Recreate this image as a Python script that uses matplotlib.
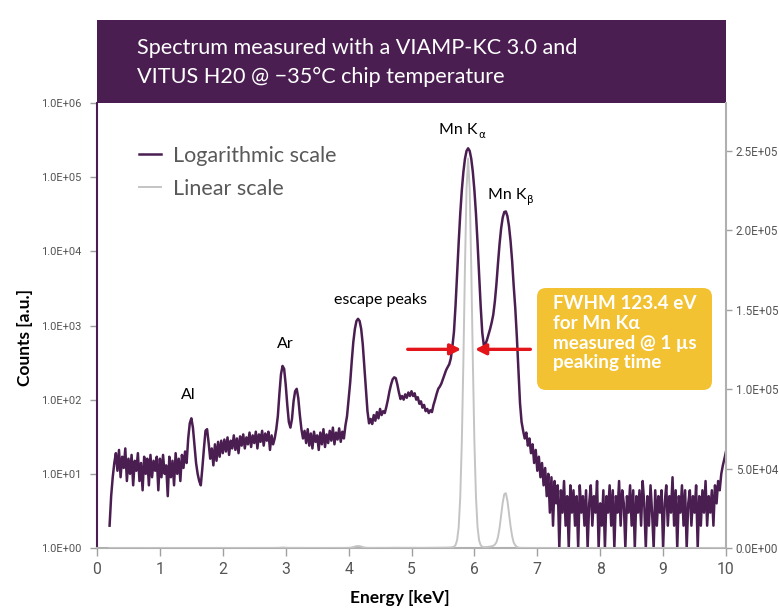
import numpy as np
import matplotlib
matplotlib.use("Agg")
import matplotlib.pyplot as plt
from matplotlib.font_manager import FontProperties, findfont
from matplotlib.textpath import TextPath
from matplotlib.patches import FancyBboxPatch, Rectangle
from matplotlib.transforms import IdentityTransform
from matplotlib.ticker import FixedLocator, NullLocator, FuncFormatter

# ---------------- data ----------------
CHANNEL_WIDTH_KEV = 0.025
segment_start_kev = [0.2, 2.0, 4.0, 6.0, 8.0]

counts_0p2_to_2keV = [
    2, 5, 9, 14, 19, 11, 21, 9, 17, 12,
    22, 8, 16, 10, 18, 7, 15, 11, 19, 8,
    14, 6, 17, 10, 16, 7, 18, 9, 15, 11,
    17, 6, 16, 9, 18, 10, 13, 5, 17, 9,
    15, 7, 19, 10, 16, 8, 18, 12, 20, 14,
    30, 48, 56, 42, 24, 14, 10, 8, 7, 12,
    22, 38, 40, 26, 16, 22, 13, 25, 15, 27,
    17, 28,
]
counts_2_to_4keV = [
    19, 29, 20, 31, 18, 28, 22, 33, 21, 30,
    19, 32, 24, 34, 22, 31, 25, 36, 23, 33,
    26, 37, 22, 34, 27, 38, 24, 35, 28, 37,
    21, 33, 25, 30, 40, 60, 120, 220, 285, 260,
    160, 85, 50, 42, 55, 95, 130, 140, 105, 62,
    40, 30, 38, 26, 40, 24, 35, 22, 37, 27,
    33, 21, 36, 25, 40, 23, 34, 26, 38, 28,
    42, 25, 36, 29, 41, 27, 37, 30, 45, 60,
]
counts_4_to_6keV = [
    100, 170, 330, 600, 900, 1150, 1230, 1150, 900, 560,
    276, 140, 70, 48, 55, 47, 62, 52, 68, 56,
    75, 62, 70, 66, 80, 100, 130, 160, 188, 200,
    195, 160, 125, 102, 112, 100, 118, 106, 125, 112,
    130, 112, 122, 100, 108, 88, 95, 78, 85, 70,
    75, 66, 72, 68, 85, 100, 120, 140, 150, 165,
    190, 220, 250, 275, 300, 360, 520, 820, 1850, 5000,
    13100, 32100, 66700, 117900, 177000, 225900, 245000, 225900, 177000, 117900,
]
counts_6_to_8keV = [
    66700, 32100, 13100, 4700, 1800, 800, 540, 560, 640, 760,
    900, 1100, 1400, 2100, 3600, 6900, 12600, 20400, 28500, 33900,
    34500, 29800, 21900, 13700, 7400, 3400, 1700, 700, 250, 90,
    50, 38, 30, 36, 24, 30, 19, 25, 14, 21,
    11, 17, 9, 14, 7, 12, 5, 10, 3, 9,
    2, 8, 4, 7, 1, 6, 3, 8, 2, 5,
    1, 7, 3, 6, 2, 5, 1, 7, 3, 5,
    2, 6, 1, 4, 7, 2, 5, 3, 8, 1,
]
counts_8_to_10keV = [
    4, 2, 6, 1, 5, 3, 7, 2, 6, 1,
    5, 3, 8, 2, 6, 4, 1, 5, 3, 7,
    2, 6, 1, 5, 3, 6, 2, 8, 4, 1,
    5, 2, 7, 3, 1, 6, 2, 5, 3, 6,
    1, 4, 7, 2, 5, 3, 9, 2, 6, 1,
    5, 3, 7, 2, 6, 1, 4, 6, 2, 5,
    3, 7, 1, 5, 2, 6, 3, 8, 2, 5,
    3, 6, 2, 7, 4, 8, 6, 10, 13, 16,
    20,
]
segments = [counts_0p2_to_2keV, counts_2_to_4keV, counts_4_to_6keV,
            counts_6_to_8keV, counts_8_to_10keV]

series_names = ["Logarithmic scale", "Linear scale"]
x_tick_values = list(range(0, 11))
log_tick_values = [1e0, 1e1, 1e2, 1e3, 1e4, 1e5, 1e6]
lin_tick_values = [0, 5e4, 1e5, 1.5e5, 2e5, 2.5e5]

title_lines = ["Spectrum measured with a VIAMP-KC 3.0 and",
               "VITUS H20 @ \u221235\u00b0C chip temperature"]
box_text = "FWHM 123.4 eV\nfor Mn K\u03b1\nmeasured @ 1 \u00b5s\npeaking time"
fwhm_level = 1.25e5

energy = np.concatenate([s + CHANNEL_WIDTH_KEV * np.arange(len(c))
                         for s, c in zip(segment_start_kev, segments)])
counts = np.concatenate([np.asarray(c, float) for c in segments])

# ---------------- style ----------------
W, H, DPI = 779, 608, 100
PURPLE = "#4b1e52"
GRAY = "#c4c4c4"
TEXT = ["Lato", "DejaVu Sans"]

# choose the narrowest installed face for the tick labels
candidates = [("Liberation Sans Narrow", "normal"), ("DejaVu Sans", "condensed"),
              ("Roboto", "normal"), ("Lato", "normal"), ("Liberation Sans", "normal")]
best = None
for fam, st in candidates:
    fp = FontProperties(family=fam, stretch=st)
    try:
        path = findfont(fp, fallback_to_default=False)
    except Exception:
        continue
    if fam == "DejaVu Sans" and "ondensed" not in path:
        continue
    ext = TextPath((0, 0), "1.0E+06", prop=fp, size=10).get_extents()
    dig = TextPath((0, 0), "0", prop=fp, size=10).get_extents()
    ratio = ext.width / dig.height
    if best is None or ratio < best[0]:
        best = (ratio, fp, ext.width, dig.height)
_, NARROW_FP, w10, h10 = best
px_per_unit = DPI / 72.0
left_size = 10 * 39 / (w10 * px_per_unit)
right_size = 10 * 41 / (w10 * px_per_unit)
x_size = 10 * 11.5 / (h10 * px_per_unit)

plt.rcParams["font.family"] = TEXT

def fx(px):
    return px / W

def fy(py):
    return 1 - py / H

fig = plt.figure(figsize=(W / DPI, H / DPI), dpi=DPI)
ax = fig.add_axes([fx(97), fy(548), fx(726) - fx(97), fy(103) - fy(548)])
ax2 = ax.twinx()

l1, = ax.plot(energy, counts, color=PURPLE, lw=1.8, zorder=3, label=series_names[0])
l2, = ax2.plot(energy, counts, color=GRAY, lw=1.4, zorder=2, label=series_names[1])

ax.set_yscale("log")
ax.set_ylim(1, 1e6)
ax.set_xlim(0, 10)
ax2.set_ylim(0, 2.8e5)

ax.xaxis.set_major_locator(FixedLocator(x_tick_values))
ax.yaxis.set_major_locator(FixedLocator(log_tick_values))
ax.yaxis.set_minor_locator(NullLocator())
ax.yaxis.set_major_formatter(FuncFormatter(lambda v, p: f"{v:.1E}"))
ax2.yaxis.set_major_locator(FixedLocator(lin_tick_values))
ax2.yaxis.set_major_formatter(FuncFormatter(lambda v, p: f"{v:.1E}"))

for a in (ax, ax2):
    a.spines["top"].set_visible(False)
ax.spines["right"].set_visible(False)
ax2.spines["left"].set_visible(False)
ax2.spines["bottom"].set_visible(False)
ax.spines["left"].set_color(PURPLE)
ax.spines["left"].set_linewidth(1.5)
ax.spines["bottom"].set_color("#b0b0b0")
ax.spines["bottom"].set_linewidth(1.5)
ax2.spines["right"].set_color("#b0b0b0")
ax2.spines["right"].set_linewidth(1.5)

ax.tick_params(axis="x", direction="out", length=6, width=1, color="#a0a0a0",
               labelcolor="#555555", labelsize=x_size, pad=4)
ax.tick_params(axis="y", direction="out", length=5, width=1, color="#a0a0a0",
               labelcolor="#555555", labelsize=left_size, pad=6)
ax2.tick_params(axis="y", direction="out", length=4, width=1, color="#a0a0a0",
                labelcolor="#555555", labelsize=right_size, pad=3)
for lbl in ax.get_xticklabels() + ax.get_yticklabels() + ax2.get_yticklabels():
    lbl.set_family(NARROW_FP.get_family())
    lbl.set_stretch(NARROW_FP.get_stretch())

# title band
fig.add_artist(Rectangle((fx(97), fy(103)), fx(726) - fx(97), fy(20) - fy(103),
                         transform=fig.transFigure, facecolor=PURPLE,
                         edgecolor="none", zorder=0))
fig.text(fx(137), fy(48), title_lines[0], color="white", fontsize=15.6, va="center")
fig.text(fx(137), fy(77), title_lines[1], color="white", fontsize=15.6, va="center")

# axis labels
fig.text(fx(400), fy(598), "Energy [keV]", fontsize=12.5, fontweight="bold",
         ha="center", va="center", color="black")
fig.text(fx(25), fy(337), "Counts [a.u.]", fontsize=12.5, fontweight="bold",
         ha="center", va="center", rotation=90, color="black")

# legend
ax.legend(handles=[l1, l2], loc="upper left", bbox_to_anchor=(fx(139), fy(146)),
          bbox_transform=fig.transFigure, frameon=False, fontsize=15.5,
          labelcolor="#595959", handlelength=1.0, handletextpad=0.6,
          labelspacing=0.6, borderaxespad=0, borderpad=0)

# peak labels
lab = dict(fontsize=11.5, color="black", va="center")
ax.text(1.45, 115, "Al", ha="center", **lab)
ax.text(2.99, 560, "Ar", ha="center", **lab)
ax.text(4.51, 2200, "escape peaks", ha="center", **lab)
ax.text(6.05, 4.27e5, "Mn K", ha="right", **lab)
ax.text(6.06, 3.7e5, "\u03b1", ha="left", fontsize=7.5, color="black", va="center",
        family=["DejaVu Sans"])
ax.text(6.83, 5.72e4, "Mn K", ha="right", **lab)
ax.text(6.84, 4.95e4, "\u03b2", ha="left", fontsize=7.5, color="black", va="center",
        family=["DejaVu Sans"])

# FWHM arrows
arrow = dict(arrowstyle="-|>", color="#e3151a", lw=2.4, mutation_scale=16,
             shrinkA=0, shrinkB=0)
ax2.annotate("", xy=(5.79, fwhm_level), xytext=(4.94, fwhm_level), arrowprops=arrow)
ax2.annotate("", xy=(6.01, fwhm_level), xytext=(6.89, fwhm_level), arrowprops=arrow)

# yellow info box
fig.add_artist(FancyBboxPatch((537, H - 390), 175, 102,
                              boxstyle="round,pad=0,rounding_size=9",
                              transform=IdentityTransform(), facecolor="#f2c232",
                              edgecolor="none", zorder=5))
fig.text(fx(553), fy(295), box_text, color="white", fontsize=13.6, fontweight="bold",
         va="top", ha="left", linespacing=1.2, zorder=6,
         family=["Lato", "DejaVu Sans"])

fig.savefig("out.png", dpi=DPI)
